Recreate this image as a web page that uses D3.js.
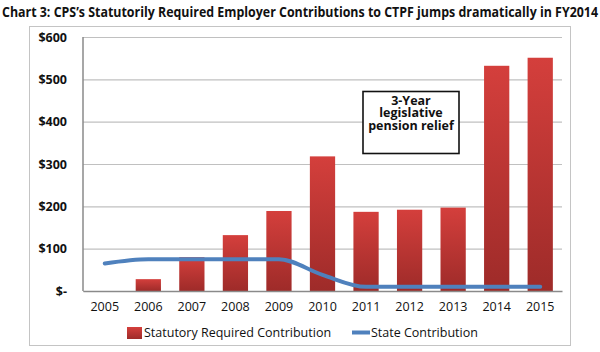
<!DOCTYPE html>
<html>
<head>
<meta charset="utf-8">
<script src="https://d3js.org/d3.v7.min.js"></script>
<style>
  body { margin: 0; background: #fff; }
  svg { display: block; font-family: "Open Sans", "Noto Sans", sans-serif; }
</style>
</head>
<body>
<div id="chart"></div>
<script>
// Data
const years = ["2005", "2006", "2007", "2008", "2009", "2010", "2011", "2012", "2013", "2014", "2015"];
const statutory = [0, 28, 80, 132, 189, 318, 187, 192, 197, 532, 551];
const state = [65, 75, 75, 75, 75, 38, 10, 10, 10, 10, 10];
const yTicks = [0, 100, 200, 300, 400, 500, 600];

const width = 600, height = 352;
const margin = { top: 37, right: 38, bottom: 61, left: 83 };
const innerWidth = width - margin.left - margin.right;
const innerHeight = height - margin.top - margin.bottom;

const svg = d3.select("#chart").append("svg")
  .attr("width", width)
  .attr("height", height);

const defs = svg.append("defs");
const grad = defs.append("linearGradient")
  .attr("id", "barGrad")
  .attr("x1", 0).attr("y1", 0).attr("x2", 0).attr("y2", 1);
grad.append("stop").attr("offset", "0%").attr("stop-color", "#d43f3c");
grad.append("stop").attr("offset", "100%").attr("stop-color", "#9e2b29");

// Title
svg.append("text")
  .attr("x", 2)
  .attr("y", 17)
  .attr("font-size", 14)
  .attr("font-weight", "bold")
  .attr("textLength", 596)
  .attr("lengthAdjust", "spacingAndGlyphs")
  .attr("fill", "#111")
  .text("Chart 3: CPS’s Statutorily Required Employer Contributions to CTPF jumps dramatically in FY2014");

// Outer frame
svg.append("rect")
  .attr("x", 29.5).attr("y", 26.5)
  .attr("width", 541).attr("height", 319)
  .attr("fill", "none")
  .attr("stroke", "#c4c4c4");

const g = svg.append("g")
  .attr("transform", `translate(${margin.left},${margin.top})`);

const x = d3.scaleBand()
  .domain(years)
  .range([0, innerWidth])
  .paddingInner(0.42)
  .paddingOuter(0.21);

const y = d3.scaleLinear()
  .domain([0, 600])
  .range([innerHeight, 0]);

// Grid
g.append("g")
  .attr("class", "grid")
  .call(d3.axisLeft(y).tickValues(yTicks).tickSize(-innerWidth).tickFormat(""))
  .call(s => s.select(".domain").remove())
  .call(s => s.selectAll("line").attr("stroke", "#c0c0c0").attr("stroke-width", 1.2));

// Y axis labels
g.append("g")
  .call(d3.axisLeft(y).tickValues(yTicks).tickSize(0).tickPadding(16)
    .tickFormat(d => d === 0 ? "$-" : "$" + d))
  .attr("font-size", 12.5)
  .attr("font-family", "\"Open Sans\", sans-serif")
  .call(s => s.select(".domain").remove())
  .call(s => s.selectAll("text")
    .attr("font-weight", "bold")
    .attr("fill", "#111"));

// Bars
g.selectAll("rect.bar")
  .data(years.map((yr, i) => ({ yr, v: statutory[i] })).filter(d => d.v > 0))
  .enter()
  .append("rect")
  .attr("class", "bar")
  .attr("x", d => x(d.yr))
  .attr("y", d => y(d.v))
  .attr("width", x.bandwidth())
  .attr("height", d => innerHeight - y(d.v))
  .attr("fill", "url(#barGrad)");

// Axes lines
g.append("line")
  .attr("x1", 0).attr("x2", 0).attr("y1", 0).attr("y2", innerHeight)
  .attr("stroke", "#8a8a8a").attr("stroke-width", 1.5);

g.append("g")
  .attr("transform", `translate(0,${innerHeight})`)
  .call(d3.axisBottom(x).tickSize(0).tickPadding(11))
  .attr("font-size", 12.5)
  .attr("font-family", "\"Open Sans\", sans-serif")
  .call(s => s.select(".domain").attr("stroke", "#8a8a8a").attr("stroke-width", 1.5))
  .call(s => s.selectAll("text").attr("fill", "#111"));

// State contribution line
const line = d3.line()
  .x((d, i) => x(years[i]) + x.bandwidth() / 2)
  .y(d => y(d))
  .curve(d3.curveMonotoneX);

g.append("path")
  .datum(state)
  .attr("d", line)
  .attr("fill", "none")
  .attr("stroke", "#4f81bd")
  .attr("stroke-width", 4)
  .attr("stroke-linecap", "round");

// Annotation box
const box = svg.append("g");
box.append("rect")
  .attr("x", 363).attr("y", 91.5)
  .attr("width", 96).attr("height", 62)
  .attr("fill", "#fff")
  .attr("stroke", "#111")
  .attr("stroke-width", 1.6);
["3-Year", "legislative", "pension relief"].forEach((t, i) => {
  box.append("text")
    .attr("x", 411)
    .attr("y", 104.5 + i * 12.5)
    .attr("text-anchor", "middle")
    .attr("font-size", 12.5)
    .attr("font-weight", "bold")
    .attr("fill", "#111")
    .text(t);
});

// Legend
const legend = svg.append("g").attr("font-size", 12.5).attr("fill", "#111");
legend.append("rect")
  .attr("x", 127).attr("y", 327)
  .attr("width", 15).attr("height", 12)
  .attr("fill", "url(#barGrad)");
legend.append("text")
  .attr("x", 144).attr("y", 337)
  .text("Statutory Required Contribution");
legend.append("line")
  .attr("x1", 352).attr("x2", 370)
  .attr("y1", 332.5).attr("y2", 332.5)
  .attr("stroke", "#4f81bd").attr("stroke-width", 4);
legend.append("text")
  .attr("x", 371).attr("y", 337)
  .text("State Contribution");
</script>
</body>
</html>
